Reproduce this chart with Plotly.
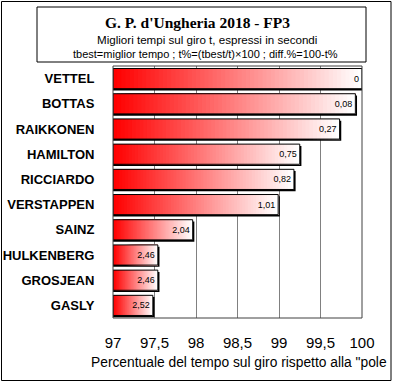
import plotly.graph_objects as go

drivers = ["VETTEL", "BOTTAS", "RAIKKONEN", "HAMILTON", "RICCIARDO",
           "VERSTAPPEN", "SAINZ", "HULKENBERG", "GROSJEAN", "GASLY"]
diff_pct = [0, 0.08, 0.27, 0.75, 0.82, 1.01, 2.04, 2.46, 2.46, 2.52]
diff_labels = ["0", "0,08", "0,27", "0,75", "0,82", "1,01", "2,04", "2,46", "2,46", "2,52"]
t_pct = [round(100 - d, 2) for d in diff_pct]
tick_vals = [97, 97.5, 98, 98.5, 99, 99.5, 100]
tick_text = ["97", "97,5", "98", "98,5", "99", "99,5", "100"]

BASE = 97.0
N = 60
BW = 0.8
fig = go.Figure()

# shadow
fig.add_trace(go.Bar(
    y=drivers, x=[v - BASE + 0.02 for v in t_pct], base=BASE, orientation="h",
    width=BW, offset=-BW / 2 + 0.07, marker=dict(color="black", line=dict(width=0)),
    hoverinfo="skip", showlegend=False))

# gradient segments (each runs from its start to the bar end; later ones overlay)
for i in range(N):
    f = i / (N - 1)
    g = int(round(255 * f))
    col = f"rgb(255,{g},{g})"
    fig.add_trace(go.Bar(
        y=drivers, x=[(v - BASE) * (N - i) / N for v in t_pct],
        base=[BASE + (v - BASE) * i / N for v in t_pct], orientation="h",
        width=BW, offset=-BW / 2, marker=dict(color=col, line=dict(width=0)),
        hoverinfo="skip", showlegend=False))

# outline + labels
fig.add_trace(go.Bar(
    y=drivers, x=[v - BASE for v in t_pct], base=BASE, orientation="h",
    width=BW, offset=-BW / 2,
    marker=dict(color="rgba(0,0,0,0)", line=dict(color="black", width=1)),
    text=diff_labels, textposition="inside", insidetextanchor="end",
    textangle=0, constraintext="none",
    textfont=dict(family="Arial, Liberation Sans", size=9, color="black"),
    showlegend=False))

fig.update_layout(
    width=395, height=383, barmode="overlay",
    margin=dict(l=113, r=33, t=66, b=65),
    paper_bgcolor="white", plot_bgcolor="white",
    xaxis=dict(range=[97, 100], tickvals=tick_vals, ticktext=tick_text,
               showgrid=True, gridcolor="#808080", gridwidth=1,
               zeroline=False, showline=False, automargin=False,
               ticks="outside", ticklen=11, tickcolor="white",
               tickfont=dict(family="Arial, Liberation Sans", size=15, color="black")),
    yaxis=dict(categoryorder="array", categoryarray=drivers, automargin=False,
               range=[9.5, -0.5], showgrid=False, zeroline=False, showline=False,
               ticks="outside", ticklen=15, tickcolor="white",
               tickfont=dict(family="Arial, Liberation Sans", size=13, color="black",
                             weight="bold")),
    font=dict(family="Arial, Liberation Sans"),
    shapes=[
        dict(type="rect", xref="paper", yref="paper", x0=0, x1=1, y0=0, y1=1,
             line=dict(color="#404040", width=1), layer="above"),
        dict(type="rect", xref="paper", yref="paper", x0=(1.5 - 113) / 249, x1=(391 - 113) / 249,
             y0=(318 - 380.5) / 252, y1=(318 - 1.5) / 252, line=dict(color="black", width=1)),
        dict(type="rect", xref="paper", yref="paper", x0=(37 - 113) / 249, x1=(366 - 113) / 249,
             y0=(318 - 62) / 252, y1=(318 - 7) / 252, line=dict(color="black", width=1),
             fillcolor="white"),
    ],
    annotations=[
        dict(text="<b>G. P. d'Ungheria 2018 - FP3</b>", xref="paper", yref="paper",
             x=(197 - 113) / 249, y=(318 - 23) / 252, showarrow=False,
             xanchor="center", yanchor="middle",
             font=dict(family="Liberation Serif, Times New Roman", size=15.5, color="black")),
        dict(text="Migliori tempi sul giro t, espressi in secondi", xref="paper", yref="paper",
             x=(207 - 113) / 249, y=(318 - 40) / 252, showarrow=False,
             xanchor="center", yanchor="middle",
             font=dict(family="Arial, Liberation Sans", size=11.6, color="black")),
        dict(text="tbest=miglior tempo ; t%=(tbest/t)×100 ; diff.%=100-t%", xref="paper", yref="paper",
             x=(205 - 113) / 249, y=(318 - 54) / 252, showarrow=False,
             xanchor="center", yanchor="middle",
             font=dict(family="Arial, Liberation Sans", size=11, color="black")),
        dict(text='Percentuale del tempo sul giro rispetto alla "pole', xref="paper", yref="paper",
             x=(89 - 113) / 249, y=(318 - 362) / 252, showarrow=False,
             xanchor="left", yanchor="middle",
             font=dict(family="Arial, Liberation Sans", size=13.8, color="black")),
    ],
)

fig.write_html("out.html", config={"displayModeBar": False},
               post_script="document.body.style.margin='0';document.body.style.overflow='hidden';")
